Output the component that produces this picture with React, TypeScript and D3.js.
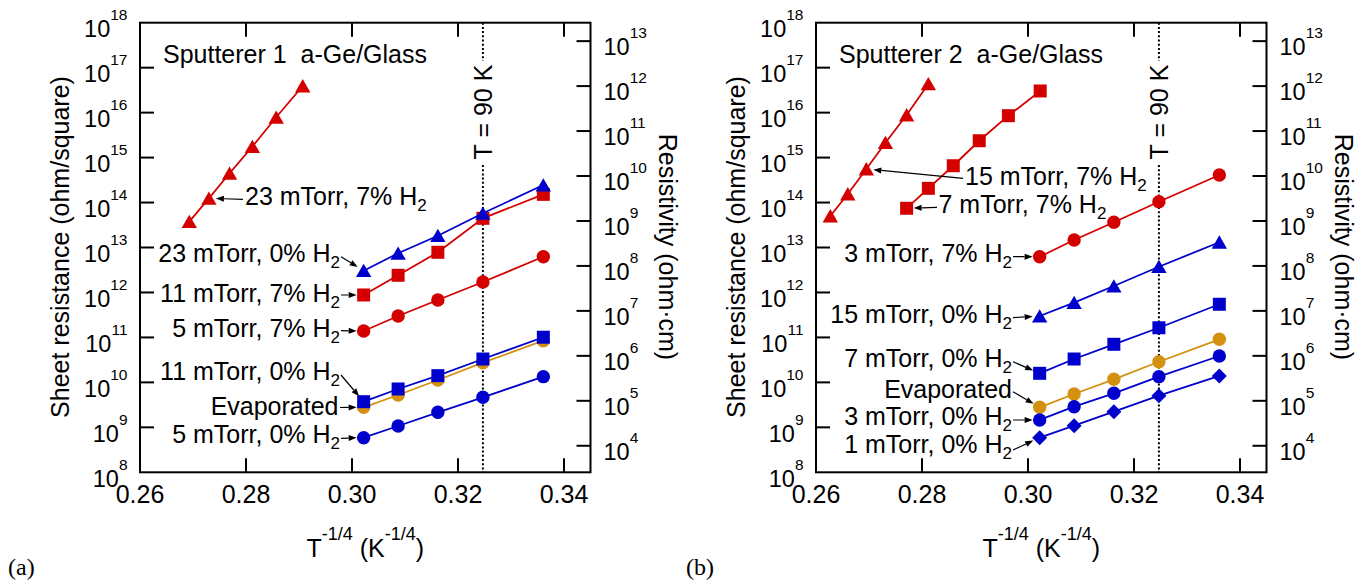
import React from "react";
import * as d3 from "d3";

// ---- colours -------------------------------------------------------------
const RED = "#d40000";
const BLUE = "#0000cc";
const ORANGE = "#d4900f";

// ---- x positions, T^-1/4 (K^-1/4) ---------------------------------------
const xSputtered = [0.3022, 0.3087, 0.3162, 0.3247, 0.3361];
const xA23mTorr7 = [0.2693, 0.273, 0.2769, 0.2812, 0.2857, 0.2907];
const xB15mTorr7 = [0.2627, 0.266, 0.2695, 0.2731, 0.2771, 0.2812];
const xB7mTorr7 = [0.2771, 0.2812, 0.2859, 0.2908, 0.2963, 0.3023];

// ---- sheet resistance (ohm/square), panel (a) ------------------------------
const rsA23mTorr7 = [3.75e13, 1.24e14, 4.47e14, 1.75e15, 7.87e15, 3.91e16];
const rsA23mTorr0 = [3.05e12, 7.43e12, 1.83e13, 5.77e13, 2.45e14];
const rsA11mTorr7 = [8.79e11, 2.41e12, 7.82e12, 4.46e13, 1.52e14];
const rsA5mTorr7 = [1.39e11, 2.99e11, 6.79e11, 1.71e12, 6.24e12];
const rsA11mTorr0 = [3.72e9, 7.13e9, 1.41e10, 3.31e10, 1.01e11];
const rsAEvap = [2.79e9, 5.24e9, 1.13e10, 2.74e10, 8.45e10];
const rsA5mTorr0 = [5.89e8, 1.07e9, 2.16e9, 4.66e9, 1.34e10];

// ---- sheet resistance (ohm/square), panel (b) ------------------------------
const rsB15mTorr7 = [5.02e13, 1.55e14, 5.57e14, 2.14e15, 8.85e15, 4.34e16];
const rsB7mTorr7 = [7.45e13, 2.07e14, 6.59e14, 2.37e15, 8.55e15, 3.03e16];
const rsB3mTorr7 = [6.24e12, 1.47e13, 3.64e13, 1.04e14, 4.1e14];
const rsB15mTorr0 = [2.99e11, 5.92e11, 1.39e12, 3.74e12, 1.31e13];
const rsB7mTorr0 = [1.59e10, 3.31e10, 7.03e10, 1.64e11, 5.46e11];
const rsBEvap = [2.79e9, 5.52e9, 1.17e10, 2.88e10, 9.08e10];
const rsB3mTorr0 = [1.46e9, 2.88e9, 5.71e9, 1.34e10, 3.86e10];
const rsB1mTorr0 = [5.89e8, 1.09e9, 2.23e9, 5.06e9, 1.39e10];

// ---- axes ----------------------------------------------------------------
const xTicks = [0.26, 0.28, 0.3, 0.32, 0.34];
const rsTickExponents = [8, 9, 10, 11, 12, 13, 14, 15, 16, 17, 18];
const rhoTickExponents = [4, 5, 6, 7, 8, 9, 10, 11, 12, 13];
const FILM_THICKNESS_CM = 2.57e-5; // resistivity = sheet resistance x thickness
const T_90K = 0.3247; // 90^-1/4

// ---- layout --------------------------------------------------------------
const FRAME = { left: 140, right: 590.5, top: 22.7, bottom: 472.3 };
const FONT = "'Liberation Sans', Arial, Helvetica, sans-serif";
const FS = 25;

const x = d3.scaleLinear().domain([0.26, 0.345]).range([FRAME.left, FRAME.right]);
const yRs = d3.scaleLog().domain([1e8, 1e18]).range([FRAME.bottom, FRAME.top]);
const yRho = d3
  .scaleLog()
  .domain([1e8 * FILM_THICKNESS_CM, 1e18 * FILM_THICKNESS_CM])
  .range([FRAME.bottom, FRAME.top]);

type MarkerKind = "circle" | "square" | "triangle" | "diamond";
type Series = { id: string; xs: number[]; ys: number[]; color: string; marker: MarkerKind };
type Callout = {
  label: string;
  anchor: "start" | "end";
  tx: number;
  ty: number;
  from: [number, number];
  target: string;
  index: number;
};

const seriesA: Series[] = [
  { id: "a23h7", xs: xA23mTorr7, ys: rsA23mTorr7, color: RED, marker: "triangle" },
  { id: "a11h7", xs: xSputtered, ys: rsA11mTorr7, color: RED, marker: "square" },
  { id: "a5h7", xs: xSputtered, ys: rsA5mTorr7, color: RED, marker: "circle" },
  { id: "a23h0", xs: xSputtered, ys: rsA23mTorr0, color: BLUE, marker: "triangle" },
  { id: "aEvap", xs: xSputtered, ys: rsAEvap, color: ORANGE, marker: "circle" },
  { id: "a11h0", xs: xSputtered, ys: rsA11mTorr0, color: BLUE, marker: "square" },
  { id: "a5h0", xs: xSputtered, ys: rsA5mTorr0, color: BLUE, marker: "circle" },
];

const seriesB: Series[] = [
  { id: "b15h7", xs: xB15mTorr7, ys: rsB15mTorr7, color: RED, marker: "triangle" },
  { id: "b7h7", xs: xB7mTorr7, ys: rsB7mTorr7, color: RED, marker: "square" },
  { id: "b3h7", xs: xSputtered, ys: rsB3mTorr7, color: RED, marker: "circle" },
  { id: "b15h0", xs: xSputtered, ys: rsB15mTorr0, color: BLUE, marker: "triangle" },
  { id: "b7h0", xs: xSputtered, ys: rsB7mTorr0, color: BLUE, marker: "square" },
  { id: "bEvap", xs: xSputtered, ys: rsBEvap, color: ORANGE, marker: "circle" },
  { id: "b3h0", xs: xSputtered, ys: rsB3mTorr0, color: BLUE, marker: "circle" },
  { id: "b1h0", xs: xSputtered, ys: rsB1mTorr0, color: BLUE, marker: "diamond" },
];

const calloutsA: Callout[] = [
  { label: "23 mTorr, 7% H2", anchor: "start", tx: 245, ty: 205, from: [243, 199.3], target: "a23h7", index: 1 },
  { label: "23 mTorr, 0% H2", anchor: "end", tx: 340, ty: 261.7, from: [341, 256.7], target: "a23h0", index: 0 },
  { label: "11 mTorr, 7% H2", anchor: "end", tx: 340, ty: 301.7, from: [341, 295], target: "a11h7", index: 0 },
  { label: "5 mTorr, 7% H2", anchor: "end", tx: 340, ty: 336.7, from: [341, 330.7], target: "a5h7", index: 0 },
  { label: "11 mTorr, 0% H2", anchor: "end", tx: 340, ty: 380, from: [341, 375], target: "a11h0", index: 0 },
  { label: "Evaporated", anchor: "end", tx: 338.5, ty: 415, from: [340, 407.5], target: "aEvap", index: 0 },
  { label: "5 mTorr, 0% H2", anchor: "end", tx: 340, ty: 443.3, from: [341, 438.3], target: "a5h0", index: 0 },
];

const calloutsB: Callout[] = [
  { label: "15 mTorr, 7% H2", anchor: "start", tx: 289, ty: 185, from: [287, 178.3], target: "b15h7", index: 2 },
  { label: "7 mTorr, 7% H2", anchor: "start", tx: 262.5, ty: 213.3, from: [261, 207.3], target: "b7h7", index: 0 },
  { label: "3 mTorr, 7% H2", anchor: "end", tx: 336, ty: 261.7, from: [337, 256.7], target: "b3h7", index: 0 },
  { label: "15 mTorr, 0% H2", anchor: "end", tx: 336, ty: 323.3, from: [337, 317.7], target: "b15h0", index: 0 },
  { label: "7 mTorr, 0% H2", anchor: "end", tx: 336, ty: 366.5, from: [337, 361.7], target: "b7h0", index: 0 },
  { label: "Evaporated", anchor: "end", tx: 336, ty: 397.5, from: [337, 391.7], target: "bEvap", index: 0 },
  { label: "3 mTorr, 0% H2", anchor: "end", tx: 336, ty: 425, from: [337, 420], target: "b3h0", index: 0 },
  { label: "1 mTorr, 0% H2", anchor: "end", tx: 336, ty: 453.3, from: [337, 450], target: "b1h0", index: 0 },
];

// ---- drawing helpers -----------------------------------------------------
const markerPath = (k: MarkerKind): string => {
  switch (k) {
    case "circle":
      return d3.symbol(d3.symbolCircle, Math.PI * 6.7 * 6.7)() as string;
    case "square":
      return "M-6.5,-6.5H6.5V6.5H-6.5Z";
    case "triangle":
      return "M0,-6.9L7.7,6.4L-7.7,6.4Z";
    case "diamond":
      return "M0,-7.5L7.5,0L0,7.5L-7.5,0Z";
  }
};

const MARKER_REACH = 7;

function Arrow({ x1, y1, x2, y2 }: { x1: number; y1: number; x2: number; y2: number }) {
  const a = Math.atan2(y2 - y1, x2 - x1);
  const len = 8;
  const hw = 3;
  const bx = x2 - len * Math.cos(a);
  const by = y2 - len * Math.sin(a);
  const pts = `${x2},${y2} ${bx - hw * Math.sin(a)},${by + hw * Math.cos(a)} ${bx + hw * Math.sin(a)},${by - hw * Math.cos(a)}`;
  return (
    <g>
      <line x1={x1} y1={y1} x2={bx} y2={by} stroke="#000" strokeWidth={1.2} />
      <polygon points={pts} fill="#000" />
    </g>
  );
}

function H2Label({ label, x0, y0, anchor }: { label: string; x0: number; y0: number; anchor: "start" | "end" }) {
  const hasSub = label.endsWith("H2");
  const main = hasSub ? label.slice(0, -1) : label;
  return (
    <text x={x0} y={y0} textAnchor={anchor} fontSize={FS} fontFamily={FONT} fill="#000">
      {main}
      {hasSub && (
        <tspan dy={6} fontSize={17}>
          2
        </tspan>
      )}
    </text>
  );
}

const line = d3
  .line<[number, number]>()
  .x((d) => x(d[0]))
  .y((d) => yRs(d[1]));

function Panel({
  offsetX,
  title,
  tag,
  tagX,
  series,
  callouts,
}: {
  offsetX: number;
  title: string;
  tag: string;
  tagX: number;
  series: Series[];
  callouts: Callout[];
}) {
  const byId = new Map(series.map((s) => [s.id, s]));
  const tickLen = 14;
  const xMark = x(T_90K);
  const markLabelY = 112;
  const axisMidY = 247;
  return (
    <g>
      <text x={tagX} y={575} fontSize={24} fontFamily="'Liberation Serif', 'Times New Roman', serif" fill="#000">
        {tag}
      </text>
      <g transform={`translate(${offsetX},0)`}>
        {/* T = 90 K marker line, broken around its label */}
        <line x1={xMark} x2={xMark} y1={FRAME.top} y2={markLabelY - 51} stroke="#000" strokeWidth={2} strokeDasharray="2 2.2" />
        <line x1={xMark} x2={xMark} y1={markLabelY + 53} y2={FRAME.bottom} stroke="#000" strokeWidth={2} strokeDasharray="2 2.2" />
        <text
          transform={`translate(${xMark},${markLabelY}) rotate(-90)`}
          dy="0.36em"
          textAnchor="middle"
          fontSize={FS}
          fontFamily={FONT}
          fill="#000"
        >
          T = 90 K
        </text>

        {/* series */}
        {series.map((s) => (
          <g key={s.id}>
            <path
              d={line(s.xs.map((v, i) => [v, s.ys[i]] as [number, number])) as string}
              fill="none"
              stroke={s.color}
              strokeWidth={1.8}
            />
            {s.xs.map((v, i) => (
              <path key={i} d={markerPath(s.marker)} transform={`translate(${x(v)},${yRs(s.ys[i])})`} fill={s.color} />
            ))}
          </g>
        ))}

        {/* callouts */}
        {callouts.map((c, k) => {
          const s = byId.get(c.target)!;
          const px = x(s.xs[c.index]);
          const py = yRs(s.ys[c.index]);
          const a = Math.atan2(py - c.from[1], px - c.from[0]);
          return (
            <g key={k}>
              <H2Label label={c.label} x0={c.tx} y0={c.ty} anchor={c.anchor} />
              <Arrow x1={c.from[0]} y1={c.from[1]} x2={px - MARKER_REACH * Math.cos(a)} y2={py - MARKER_REACH * Math.sin(a)} />
            </g>
          );
        })}

        {/* frame */}
        <rect
          x={FRAME.left}
          y={FRAME.top}
          width={FRAME.right - FRAME.left}
          height={FRAME.bottom - FRAME.top}
          fill="none"
          stroke="#000"
          strokeWidth={2}
        />

        {/* x ticks, top and bottom, pointing inward */}
        {xTicks.slice(1).map((t) => (
          <g key={t}>
            <line x1={x(t)} x2={x(t)} y1={FRAME.bottom} y2={FRAME.bottom - tickLen} stroke="#000" strokeWidth={2} />
            <line x1={x(t)} x2={x(t)} y1={FRAME.top} y2={FRAME.top + tickLen} stroke="#000" strokeWidth={2} />
          </g>
        ))}
        {xTicks.map((t) => (
          <text key={t} x={x(t)} y={502.7} textAnchor="middle" fontSize={FS} fontFamily={FONT} fill="#000">
            {d3.format(".2f")(t)}
          </text>
        ))}

        {/* left axis: sheet resistance */}
        {rsTickExponents.map((e) => {
          const yy = yRs(Math.pow(10, e));
          const inner = e > rsTickExponents[0] && e < rsTickExponents[rsTickExponents.length - 1];
          return (
            <g key={e}>
              {inner && <line x1={FRAME.left} x2={FRAME.left + tickLen} y1={yy} y2={yy} stroke="#000" strokeWidth={2} />}
              <text x={127.5} y={yy + 14.5} textAnchor="end" fontSize={23.5} fontFamily={FONT} fill="#000">
                10
                <tspan dy={-17} fontSize={15.5}>
                  {e}
                </tspan>
              </text>
            </g>
          );
        })}

        {/* right axis: resistivity */}
        {rhoTickExponents.map((e) => {
          const yy = yRho(Math.pow(10, e));
          return (
            <g key={e}>
              <line x1={FRAME.right} x2={FRAME.right - tickLen} y1={yy} y2={yy} stroke="#000" strokeWidth={2} />
              <text x={FRAME.right + 13} y={yy + 14} textAnchor="start" fontSize={23.5} fontFamily={FONT} fill="#000">
                10
                <tspan dy={-17} fontSize={15.5}>
                  {e}
                </tspan>
              </text>
            </g>
          );
        })}

        {/* axis titles */}
        <text
          transform={`translate(60,${axisMidY})rotate(-90)`}
          dy="0.36em"
          textAnchor="middle"
          fontSize={FS}
          fontFamily={FONT}
          fill="#000"
        >
          Sheet resistance (ohm/square)
        </text>
        <text
          transform={`translate(668,${axisMidY})rotate(90)`}
          dy="0.36em"
          textAnchor="middle"
          fontSize={FS}
          fontFamily={FONT}
          fill="#000"
        >
          Resistivity (ohm·cm)
        </text>
        <text x={(FRAME.left + FRAME.right) / 2} y={556.7} textAnchor="middle" fontSize={FS} fontFamily={FONT} fill="#000">
          T
          <tspan dy={-16.5} fontSize={18}>
            -1/4
          </tspan>
          <tspan dy={16.5}>{" (K"}</tspan>
          <tspan dy={-16.5} fontSize={18}>
            -1/4
          </tspan>
          <tspan dy={16.5}>)</tspan>
        </text>

        {/* panel title */}
        <text x={FRAME.left + 23} y={62.7} fontSize={FS} fontFamily={FONT} fill="#000" style={{ whiteSpace: "pre" }}>
          {title}
        </text>
      </g>
    </g>
  );
}

export default function App() {
  return (
    <div style={{ position: "absolute", left: 0, top: 0 }}>
      <svg width={1368} height={584} viewBox="0 0 1368 584" style={{ display: "block", background: "#fff" }}>
        <rect width={1368} height={584} fill="#fff" />
        <Panel offsetX={0} title="Sputterer 1  a-Ge/Glass" tag="(a)" tagX={8} series={seriesA} callouts={calloutsA} />
        <Panel offsetX={676} title="Sputterer 2  a-Ge/Glass" tag="(b)" tagX={686} series={seriesB} callouts={calloutsB} />
      </svg>
    </div>
  );
}
